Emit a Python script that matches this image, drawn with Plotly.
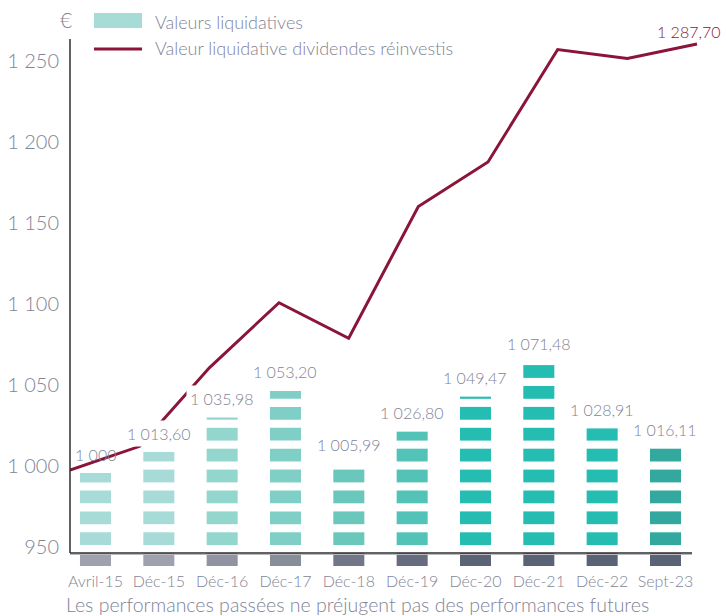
import plotly.graph_objects as go

# ---------------- data ----------------
categories = ["Avril-15", "Déc-15", "Déc-16", "Déc-17", "Déc-18",
              "Déc-19", "Déc-20", "Déc-21", "Déc-22", "Sept-23"]
valeurs_liquidatives = [1000.00, 1013.60, 1035.98, 1053.20, 1005.99,
                        1026.80, 1049.47, 1071.48, 1028.91, 1016.11]
valeur_liq_div_reinvestis = [1000.0, 1016.0, 1069.0, 1113.0, 1089.0,
                             1178.0, 1208.0, 1284.0, 1278.0, 1287.70]
bar_labels = ["1 000", "1 013,60", "1 035,98", "1 053,20", "1 005,99",
              "1 026,80", "1 049,47", "1 071,48", "1 028,91", "1 016,11"]
last_line_label = "1 287,70"
y_ticks = [950, 1000, 1050, 1100, 1150, 1200, 1250]

# ---------------- styles ----------------
bar_colors = ["#a7dbd7", "#a7dbd7", "#93d6cd", "#80cfc7", "#69c7bc",
              "#53c2b7", "#25bdb1", "#25bdb1", "#25bdb1", "#33a89f"]
base_colors = ["#a0a1ae", "#a0a1ae", "#9293a2", "#868f98", "#727689",
               "#666b7f", "#5b6477", "#5a6276", "#5a6276", "#5a6276"]
line_color = "#8a1538"
text_gray = "#7f8496"
FONT = "Lato"

W, H = 726, 616
ML, MR, MT, MB = 70, 26, 30, 50
plot_w = W - ML - MR
plot_h = H - MT - MB

# value ranges of the three overlaid vertical scales
bar_range = [939.78, 1286.98]
tick_range = [937.97, 1269.45]
line_range = [935.17, 1297.16]
# stripe geometry (bar-axis units)
stripe_base = 939.78
stripe_period = 13.538
stripe_height = 8.29
n_stripes = 11
bar_width = 0.49


def py(p):
    """pixel row -> paper y"""
    return (MT + plot_h - p) / plot_h


def px(p):
    """pixel column -> paper x"""
    return (p - ML) / plot_w


fig = go.Figure()

# grey base blocks (stripe 0)
fig.add_trace(go.Bar(
    x=categories, y=[stripe_height] * len(categories), base=stripe_base,
    marker=dict(color=base_colors, line=dict(width=0)), width=bar_width,
    xaxis="x", yaxis="y", hoverinfo="skip", showlegend=False))

# striped bars
for k in range(1, n_stripes):
    b = stripe_base + k * stripe_period
    heights = [max(0.0, min(stripe_height, v - b)) for v in valeurs_liquidatives]
    fig.add_trace(go.Bar(
        x=categories, y=heights, base=b,
        marker=dict(color=bar_colors, line=dict(width=0)), width=bar_width,
        xaxis="x", yaxis="y", hoverinfo="skip", showlegend=False,
        name="Valeurs liquidatives"))

# invisible anchor trace for the tick axis
fig.add_trace(go.Scatter(
    x=[categories[0]], y=[y_ticks[0]], mode="markers",
    marker=dict(opacity=0, size=1), xaxis="x", yaxis="y2",
    hoverinfo="skip", showlegend=False))

# line
fig.add_trace(go.Scatter(
    x=categories, y=valeur_liq_div_reinvestis, mode="lines",
    line=dict(color=line_color, width=3), xaxis="x2", yaxis="y3",
    hoverinfo="skip", showlegend=False,
    name="Valeur liquidative dividendes réinvestis"))

annotations = []
for i, (c, v, t) in enumerate(zip(categories, valeurs_liquidatives, bar_labels)):
    annotations.append(dict(
        x=c, y=v, xref="x", yref="y", text=t, showarrow=False,
        yanchor="middle", yshift=19,
        bgcolor="rgba(255,255,255,0)" if i == 0 else "white", borderpad=3,
        font=dict(family=FONT, size=16, color=text_gray, weight=300)))

annotations.append(dict(
    x=categories[-1], y=valeur_liq_div_reinvestis[-1], xref="x2", yref="y3",
    text=last_line_label, showarrow=False, xanchor="center", yanchor="middle",
    xshift=-8, yshift=13,
    font=dict(family=FONT, size=16, color=line_color, weight=300)))

annotations.append(dict(
    x=px(66), y=py(19), xref="paper", yref="paper",
    text="€", showarrow=False, xanchor="center", yanchor="middle",
    font=dict(family=FONT, size=21, color=text_gray, weight=300)))

annotations.append(dict(
    x=px(153), y=py(22), xref="paper", yref="paper",
    text="Valeurs liquidatives", showarrow=False, xanchor="left", yanchor="middle",
    font=dict(family=FONT, size=18, color=text_gray, weight=300)))
annotations.append(dict(
    x=px(153), y=py(48), xref="paper", yref="paper",
    text="Valeur liquidative dividendes réinvestis", showarrow=False,
    xanchor="left", yanchor="middle",
    font=dict(family=FONT, size=18, color=text_gray, weight=300)))

annotations.append(dict(
    x=px(64), y=py(604), xref="paper", yref="paper",
    text="Les performances passées ne préjugent pas des performances futures",
    showarrow=False, xanchor="left", yanchor="middle",
    font=dict(family=FONT, size=19.5, color=text_gray, weight=300)))

shapes = [
    dict(type="line", xref="paper", yref="paper",
         x0=0, x1=0, y0=py(39), y1=py(553),
         line=dict(color="#2e2e33", width=1.5), layer="above"),
    dict(type="line", xref="paper", yref="paper",
         x0=0, x1=px(692), y0=py(554.5), y1=py(554.5),
         line=dict(color="#b8b8bd", width=1.2), layer="above"),
    dict(type="line", xref="paper", yref="paper",
         x0=0, x1=px(692), y0=py(553), y1=py(553),
         line=dict(color="#2e2e33", width=1.5), layer="above"),
    dict(type="rect", xref="paper", yref="paper",
         x0=px(94), x1=px(142), y0=py(28), y1=py(13),
         fillcolor="#a6dbd6", line=dict(width=0)),
    dict(type="line", xref="paper", yref="paper",
         x0=px(94), x1=px(142), y0=py(49), y1=py(49),
         line=dict(color=line_color, width=3)),
]

fig.update_layout(
    width=W, height=H,
    margin=dict(l=ML, r=MR, t=MT, b=MB, pad=0, autoexpand=False),
    paper_bgcolor="white", plot_bgcolor="white",
    barmode="overlay", showlegend=False,
    separators=", ",
    font=dict(family=FONT, color=text_gray, weight=300),
    xaxis=dict(type="category", categoryorder="array", categoryarray=categories,
               range=[-0.4026, 9.545], showgrid=False, zeroline=False,
               showline=False, ticks="", ticklabelstandoff=4, automargin=False,
               tickfont=dict(family=FONT, size=16, color=text_gray, weight=300)),
    xaxis2=dict(type="category", categoryorder="array", categoryarray=categories,
                overlaying="x", range=[0, 9.043], visible=False, automargin=False),
    yaxis=dict(range=bar_range, showgrid=False, zeroline=False, showline=False,
               showticklabels=False, ticks="", automargin=False),
    yaxis2=dict(range=tick_range, overlaying="y", side="left", anchor="x",
                tickvals=y_ticks, showgrid=False, zeroline=False, showline=False,
                ticks="", separatethousands=True, tickformat=",d",
                ticklabelstandoff=10, automargin=False,
                tickfont=dict(family=FONT, size=20, color=text_gray, weight=300)),
    yaxis3=dict(range=line_range, overlaying="y", anchor="x2", visible=False,
                automargin=False),
    annotations=annotations, shapes=shapes,
)

fig.write_html("out.html", config={"displayModeBar": False},
               post_script="document.body.style.margin='0';")
